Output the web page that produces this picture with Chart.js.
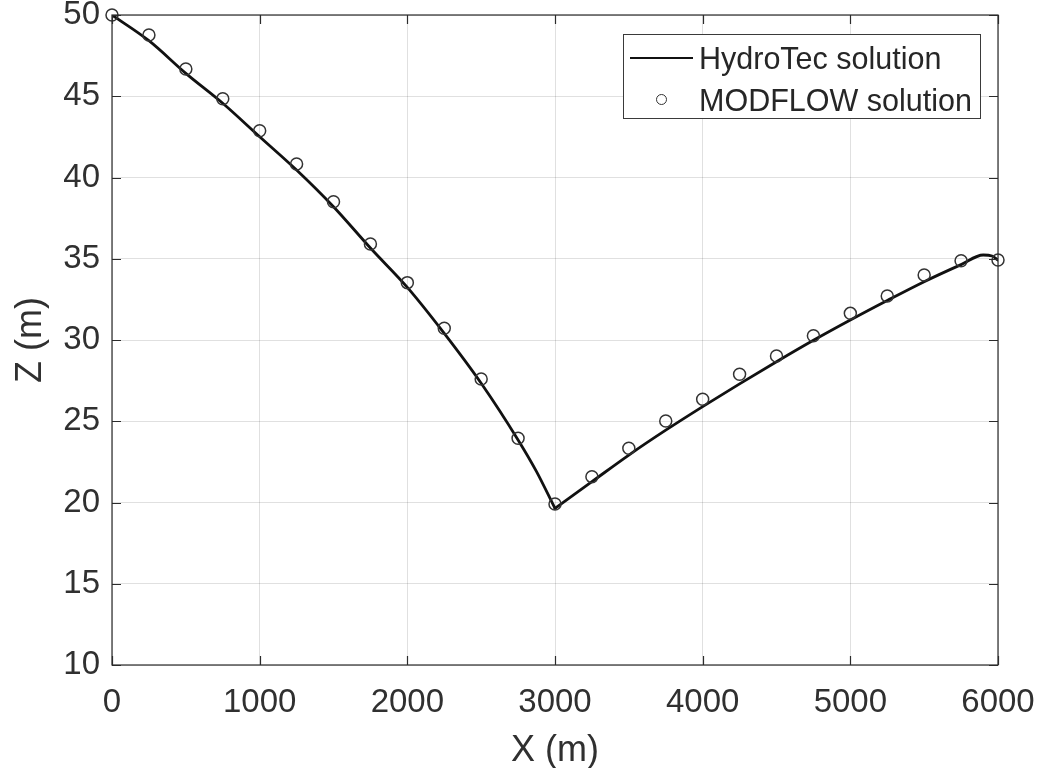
<!DOCTYPE html>
<html>
<head>
<meta charset="utf-8">
<script src="https://cdn.jsdelivr.net/npm/chart.js@4.4.1/dist/chart.umd.min.js"></script>
<style>
  html, body { margin: 0; padding: 0; background: #fff; }
  #wrap { position: relative; width: 1048px; height: 768px; }
  #c { position: absolute; left: 0; top: 0; }
  #legend { position: absolute; left: 623px; top: 34px; width: 358px; height: 85px;
    border: 1px solid #3a3a3a; background: #fff; font-family: "Liberation Sans", Arial, sans-serif;
    font-size: 30.5px; color: #262626; box-sizing: border-box; }
  .row { position: absolute; left: 0; height: 40px; line-height: 40px; white-space: nowrap; }
  .row span.t { position: absolute; left: 75px; top: 0; }
  .ln { position: absolute; left: 6px; top: 19px; width: 63px; height: 0; border-top: 2.6px solid #111; }
  .mk { position: absolute; left: 32px; top: 14px; width: 9px; height: 9px; border: 1.5px solid #333; border-radius: 50%; }
</style>
</head>
<body>
<div id="wrap">
  <canvas id="c" width="1048" height="768"></canvas>
  <div id="legend">
    <div class="row" style="top:3px;"><div class="ln"></div><span class="t">HydroTec solution</span></div>
    <div class="row" style="top:45px;"><div class="mk"></div><span class="t">MODFLOW solution</span></div>
  </div>
</div>
<script>
// HydroTec solution (line)
const lineX = [0, 250, 500, 750, 1000, 1250, 1500, 1750, 2000, 2250, 2500, 2750, 2875, 3000,
               3250, 3500, 3750, 4000, 4250, 4500, 4750, 5000, 5250, 5500, 5750, 5900, 5960, 6000];
const lineZ = [50, 48.42, 46.41, 44.57, 42.51, 40.46, 38.20, 35.66, 33.24, 30.41, 27.34, 23.85, 21.9, 19.64,
               21.28, 22.92, 24.45, 25.90, 27.30, 28.66, 29.98, 31.23, 32.43, 33.59, 34.64, 35.23, 35.17, 34.92];
// MODFLOW solution (markers)
const mfX = [0, 250, 500, 750, 1000, 1250, 1500, 1750, 2000, 2250, 2500, 2750, 3000,
             3250, 3500, 3750, 4000, 4250, 4500, 4750, 5000, 5250, 5500, 5750, 6000];
const mfZ = [50, 48.77, 46.68, 44.85, 42.88, 40.83, 38.51, 35.91, 33.53, 30.72, 27.6, 23.95, 19.91,
             21.59, 23.34, 25.02, 26.35, 27.89, 29.02, 30.26, 31.64, 32.71, 34.0, 34.88, 34.92];
const seriesNames = ["HydroTec solution", "MODFLOW solution"];
const xTicks = [0, 1000, 2000, 3000, 4000, 5000, 6000];
const yTicks = [10, 15, 20, 25, 30, 35, 40, 45, 50];
const xTitle = "X (m)";
const yTitle = "Z (m)";

const FONT = '"Liberation Sans", Arial, sans-serif';
const TXT = '#303030';

// the line is drawn as two smooth branches meeting at the sharp minimum
const vertexIdx = lineZ.indexOf(Math.min(...lineZ));
const linePts = lineX.map((x, i) => ({x, y: lineZ[i]}));
const branchL = linePts.slice(0, vertexIdx + 1);
const branchR = linePts.slice(vertexIdx);

const boxPlugin = {
  id: 'box',
  afterDatasetsDraw(chart) {
    const {ctx, chartArea: a, scales} = chart;
    ctx.save();
    ctx.strokeStyle = '#2b2b2b';
    ctx.lineWidth = 1.2;
    ctx.strokeRect(a.left, a.top, a.right - a.left, a.bottom - a.top);
    const L = 9;
    ctx.beginPath();
    xTicks.forEach(v => {
      const px = Math.round(scales.x.getPixelForValue(v)) + 0.5;
      ctx.moveTo(px, a.bottom); ctx.lineTo(px, a.bottom - L);
      ctx.moveTo(px, a.top); ctx.lineTo(px, a.top + L);
    });
    yTicks.forEach(v => {
      const py = Math.round(scales.y.getPixelForValue(v)) + 0.5;
      ctx.moveTo(a.left, py); ctx.lineTo(a.left + L, py);
      ctx.moveTo(a.right, py); ctx.lineTo(a.right - L, py);
    });
    ctx.stroke();
    ctx.restore();
  }
};

const lineStyle = {
  type: 'line',
  borderColor: '#111111',
  borderWidth: 2.8,
  pointRadius: 0,
  cubicInterpolationMode: 'monotone',
  fill: false,
  borderCapStyle: 'round',
  borderJoinStyle: 'round',
  order: 1
};

new Chart(document.getElementById('c'), {
  type: 'scatter',
  data: {
    datasets: [
      Object.assign({ label: seriesNames[0], data: branchL }, lineStyle),
      Object.assign({ label: seriesNames[0] + ' ', data: branchR }, lineStyle),
      {
        label: seriesNames[1],
        data: mfX.map((x, i) => ({x, y: mfZ[i]})),
        showLine: false,
        pointStyle: 'circle',
        pointRadius: 6,
        pointBorderWidth: 1.5,
        pointBorderColor: '#333333',
        pointBackgroundColor: 'rgba(255,255,255,0)',
        clip: false,
        order: 0
      }
    ]
  },
  options: {
    responsive: false,
    animation: false,
    devicePixelRatio: 1,
    layout: { padding: { left: 0, right: 50, top: 15, bottom: 0 } },
    plugins: { legend: { display: false }, tooltip: { enabled: false } },
    scales: {
      x: {
        type: 'linear', min: 0, max: 6000,
        afterBuildTicks: s => { s.ticks = xTicks.map(v => ({value: v})); },
        afterFit: s => { s.height = 103; s.paddingLeft = 0; s.paddingRight = 0; },
        grid: { color: 'rgba(0,0,0,0.12)', lineWidth: 1, drawTicks: false },
        border: { display: false },
        ticks: { padding: 18, color: TXT, font: { family: FONT, size: 33 }, maxRotation: 0,
                 callback: v => String(v) },
        title: { display: true, text: xTitle, color: TXT, font: { family: FONT, size: 36 }, padding: { top: -5, bottom: -5 } }
      },
      y: {
        type: 'linear', min: 10, max: 50,
        afterBuildTicks: s => { s.ticks = yTicks.map(v => ({value: v})); },
        afterFit: s => { s.width = 112; s.paddingTop = 0; s.paddingBottom = 0; },
        grid: { color: 'rgba(0,0,0,0.12)', lineWidth: 1, drawTicks: false },
        border: { display: false },
        ticks: { padding: 12, color: TXT, font: { family: FONT, size: 33 }, callback: v => String(v) },
        title: { display: true, text: yTitle, color: TXT, font: { family: FONT, size: 36 }, padding: { top: 9, bottom: 0 } }
      }
    }
  },
  plugins: [boxPlugin]
});
</script>
</body>
</html>
